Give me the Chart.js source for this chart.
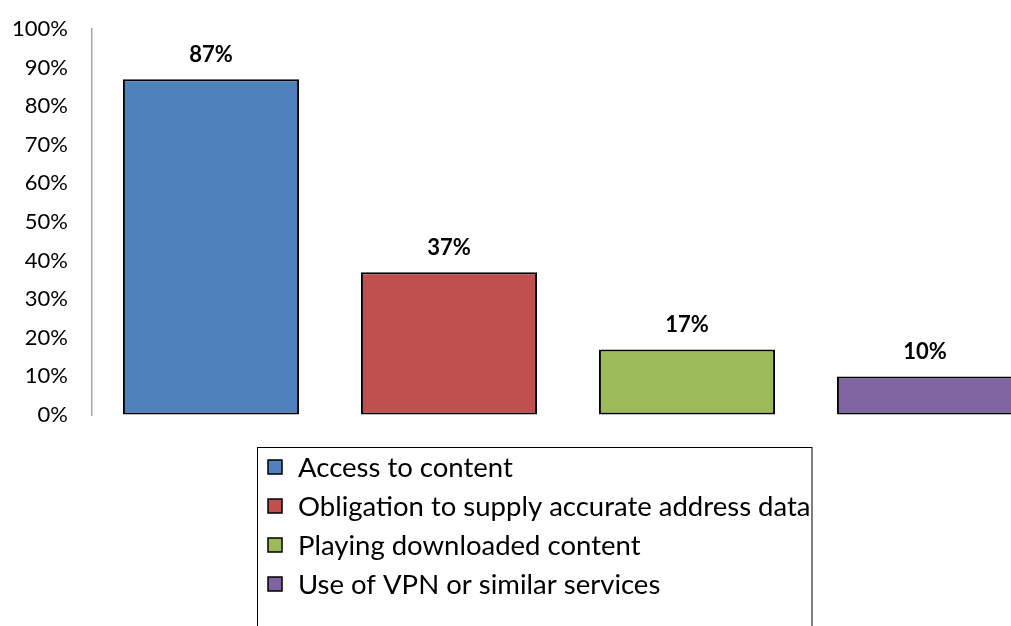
<!DOCTYPE html>
<html>
<head>
<meta charset="utf-8">
<script src="https://cdn.jsdelivr.net/npm/chart.js@4/dist/chart.umd.min.js"></script>
<style>
  html, body { margin: 0; padding: 0; background: #fff; overflow: hidden; }
  #wrap { width: 1050px; height: 626px; position: relative; }
</style>
</head>
<body>
<div id="wrap"><canvas id="c"></canvas></div>
<script>
const categories = ["Access to content", "Obligation to supply accurate address data", "Playing downloaded content", "Use of VPN or similar services"];
const values = [87, 37, 17, 10];
const barColors = ["#4F81BD", "#C0504D", "#9BBB59", "#8064A2"];
const yTicks = [0, 10, 20, 30, 40, 50, 60, 70, 80, 90, 100];

const FONT = "Lato, 'Open Sans', sans-serif";

const dataLabelPlugin = {
  id: 'dataLabels',
  afterDatasetsDraw(chart) {
    const ctx = chart.ctx;
    const meta = chart.getDatasetMeta(0);
    ctx.save();
    ctx.font = "bold 22px " + FONT;
    ctx.fillStyle = "#000";
    ctx.textAlign = "center";
    ctx.textBaseline = "middle";
    meta.data.forEach((bar, i) => {
      ctx.fillText(values[i] + "%", bar.x, bar.y - 24);
    });
    ctx.restore();
  }
};

const boxLegendPlugin = {
  id: 'boxLegend',
  afterDraw(chart) {
    const ctx = chart.ctx;
    const area = chart.chartArea;
    const left = area.left + 165;
    const top = area.bottom + 32;
    const rowH = 39;
    ctx.save();
    ctx.font = "27.5px " + FONT;
    let maxW = 0;
    categories.forEach(c => { maxW = Math.max(maxW, ctx.measureText(c).width); });
    const boxW = 41 + maxW + 1;
    const boxH = rowH * categories.length + 60;
    ctx.strokeStyle = "#000";
    ctx.lineWidth = 1;
    ctx.strokeRect(left + 0.5, top + 0.5, boxW, boxH);
    ctx.textBaseline = "middle";
    ctx.textAlign = "left";
    categories.forEach((c, i) => {
      const cy = top + 20 + i * rowH;
      ctx.fillStyle = barColors[i];
      ctx.fillRect(left + 11, cy - 7, 14, 14);
      ctx.lineWidth = 1.5;
      ctx.strokeStyle = "#000";
      ctx.strokeRect(left + 11, cy - 7, 14, 14);
      ctx.fillStyle = "#000";
      ctx.fillText(c, left + 41, cy + 1);
    });
    ctx.restore();
  }
};

new Chart(document.getElementById('c'), {
  type: 'bar',
  data: {
    labels: categories,
    datasets: [{
      data: values,
      backgroundColor: barColors,
      borderColor: "#000",
      borderWidth: 2,
      borderSkipped: false,
      categoryPercentage: 1.0,
      barPercentage: 0.74
    }]
  },
  options: {
    responsive: true,
    maintainAspectRatio: false,
    animation: false,
    layout: { padding: { top: 29, bottom: 211, right: 6, left: 0 } },
    plugins: {
      legend: { display: false },
      tooltip: { enabled: false }
    },
    scales: {
      x: { display: false },
      y: {
        min: 0, max: 100,
        afterBuildTicks: s => { s.ticks = yTicks.map(v => ({ value: v })); },
        afterFit: s => { s.width = 92; },
        grid: {
          display: true,
          drawOnChartArea: false,
          drawTicks: true,
          tickLength: 21,
          tickColor: "rgba(0,0,0,0)",
          color: "rgba(0,0,0,0)"
        },
        border: { display: true, color: "#A6A6A6", width: 1.5 },
        ticks: {
          padding: 3,
          color: "#000",
          font: { family: FONT, size: 22 },
          callback: v => v + "%"
        }
      }
    }
  },
  plugins: [dataLabelPlugin, boxLegendPlugin]
});
</script>
</body>
</html>
